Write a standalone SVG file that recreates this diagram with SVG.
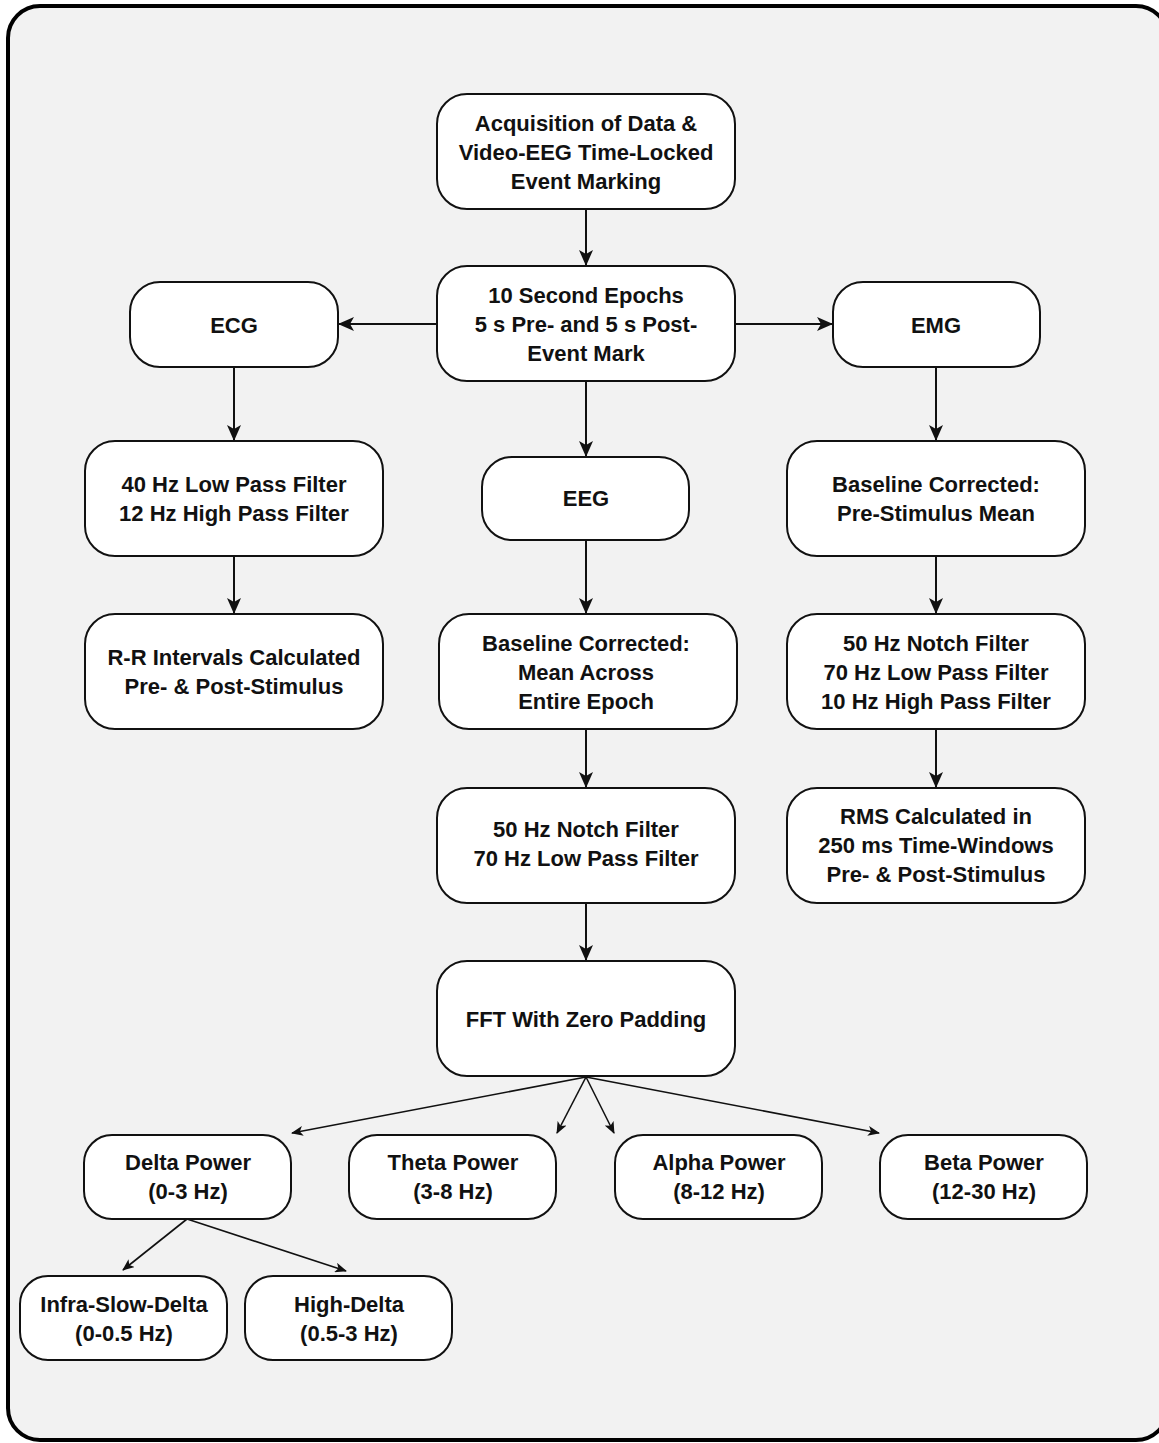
<svg xmlns="http://www.w3.org/2000/svg" width="1159" height="1443" viewBox="0 0 1159 1443">
<defs>
<style>
.frame{fill:#f2f2f2;stroke:#000;stroke-width:4}
.node rect{fill:#fff;stroke:#111;stroke-width:2}
.node text{font-family:"Liberation Sans",Arial,sans-serif;font-weight:bold;font-size:22px;fill:#111;text-anchor:middle}
.conn line{stroke:#111;stroke-width:2;fill:none}
.conn line.big{marker-end:url(#ah)}
.conn line.small{stroke-width:1.6;marker-end:url(#ahs)}
</style>
<marker id="ah" viewBox="0 0 16 14" refX="15" refY="7" markerWidth="16" markerHeight="14" markerUnits="userSpaceOnUse" orient="auto">
<path d="M0,0 L16,7 L0,14 L4,7 z" fill="#111"/>
</marker>
<marker id="ahs" viewBox="0 0 12 10" refX="11" refY="5" markerWidth="12" markerHeight="10" markerUnits="userSpaceOnUse" orient="auto">
<path d="M0,0 L12,5 L0,10 L3,5 z" fill="#111"/>
</marker>
</defs>
<rect class="frame" x="8" y="6" width="1160" height="1434" rx="32"/>

<g id="connectors" class="conn">
<line class="big" x1="586" y1="209" x2="586" y2="265"/>
<line class="big" x1="437" y1="324" x2="339" y2="324"/>
<line class="big" x1="735" y1="324" x2="832" y2="324"/>
<line class="big" x1="234" y1="367" x2="234" y2="440"/>
<line class="big" x1="586" y1="381" x2="586" y2="456"/>
<line class="big" x1="936" y1="367" x2="936" y2="440"/>
<line class="big" x1="234" y1="556" x2="234" y2="613"/>
<line class="big" x1="586" y1="540" x2="586" y2="613"/>
<line class="big" x1="936" y1="556" x2="936" y2="613"/>
<line class="big" x1="586" y1="729" x2="586" y2="787"/>
<line class="big" x1="936" y1="729" x2="936" y2="787"/>
<line class="big" x1="586" y1="903" x2="586" y2="960"/>
<line class="small" x1="586" y1="1077" x2="292" y2="1133"/>
<line class="small" x1="586" y1="1077" x2="557" y2="1133"/>
<line class="small" x1="586" y1="1077" x2="614" y2="1133"/>
<line class="small" x1="586" y1="1077" x2="879" y2="1133"/>
<line class="small" x1="187" y1="1219" x2="123" y2="1270"/>
<line class="small" x1="187" y1="1219" x2="346" y2="1271"/>
</g>

<g id="n-acq" class="node"><rect x="437" y="94" width="298" height="115" rx="30"/>
<text x="586" y="131">Acquisition of Data &amp;</text><text x="586" y="160">Video-EEG Time-Locked</text><text x="586" y="189">Event Marking</text></g>

<g id="n-epochs" class="node"><rect x="437" y="266" width="298" height="115" rx="30"/>
<text x="586" y="303">10 Second Epochs</text><text x="586" y="332">5 s Pre- and 5 s Post-</text><text x="586" y="361">Event Mark</text></g>

<g id="n-ecg" class="node"><rect x="130" y="282" width="208" height="85" rx="30"/>
<text x="234" y="333">ECG</text></g>

<g id="n-emg" class="node"><rect x="833" y="282" width="207" height="85" rx="30"/>
<text x="936" y="333">EMG</text></g>

<g id="n-ecgfilt" class="node"><rect x="85" y="441" width="298" height="115" rx="30"/>
<text x="234" y="492">40 Hz Low Pass Filter</text><text x="234" y="521">12 Hz High Pass Filter</text></g>

<g id="n-eeg" class="node"><rect x="482" y="457" width="207" height="83" rx="30"/>
<text x="586" y="506">EEG</text></g>

<g id="n-emgbase" class="node"><rect x="787" y="441" width="298" height="115" rx="30"/>
<text x="936" y="492">Baseline Corrected:</text><text x="936" y="521">Pre-Stimulus Mean</text></g>

<g id="n-rr" class="node"><rect x="85" y="614" width="298" height="115" rx="30"/>
<text x="234" y="665">R-R Intervals Calculated</text><text x="234" y="694">Pre- &amp; Post-Stimulus</text></g>

<g id="n-eegbase" class="node"><rect x="439" y="614" width="298" height="115" rx="30"/>
<text x="586" y="651">Baseline Corrected:</text><text x="586" y="680">Mean Across</text><text x="586" y="709">Entire Epoch</text></g>

<g id="n-emgfilt" class="node"><rect x="787" y="614" width="298" height="115" rx="30"/>
<text x="936" y="651">50 Hz Notch Filter</text><text x="936" y="680">70 Hz Low Pass Filter</text><text x="936" y="709">10 Hz High Pass Filter</text></g>

<g id="n-eegfilt" class="node"><rect x="437" y="788" width="298" height="115" rx="30"/>
<text x="586" y="837">50 Hz Notch Filter</text><text x="586" y="866">70 Hz Low Pass Filter</text></g>

<g id="n-rms" class="node"><rect x="787" y="788" width="298" height="115" rx="30"/>
<text x="936" y="824">RMS Calculated in</text><text x="936" y="853">250 ms Time-Windows</text><text x="936" y="882">Pre- &amp; Post-Stimulus</text></g>

<g id="n-fft" class="node"><rect x="437" y="961" width="298" height="115" rx="30"/>
<text x="586" y="1027">FFT With Zero Padding</text></g>

<g id="n-delta" class="node"><rect x="84" y="1135" width="207" height="84" rx="28"/>
<text x="188" y="1170">Delta Power</text><text x="188" y="1199">(0-3 Hz)</text></g>

<g id="n-theta" class="node"><rect x="349" y="1135" width="207" height="84" rx="28"/>
<text x="453" y="1170">Theta Power</text><text x="453" y="1199">(3-8 Hz)</text></g>

<g id="n-alpha" class="node"><rect x="615" y="1135" width="207" height="84" rx="28"/>
<text x="719" y="1170">Alpha Power</text><text x="719" y="1199">(8-12 Hz)</text></g>

<g id="n-beta" class="node"><rect x="880" y="1135" width="207" height="84" rx="28"/>
<text x="984" y="1170">Beta Power</text><text x="984" y="1199">(12-30 Hz)</text></g>

<g id="n-infraslow" class="node"><rect x="20" y="1276" width="207" height="84" rx="28"/>
<text x="124" y="1312">Infra-Slow-Delta</text><text x="124" y="1341">(0-0.5 Hz)</text></g>

<g id="n-highdelta" class="node"><rect x="245" y="1276" width="207" height="84" rx="28"/>
<text x="349" y="1312">High-Delta</text><text x="349" y="1341">(0.5-3 Hz)</text></g>
</svg>
